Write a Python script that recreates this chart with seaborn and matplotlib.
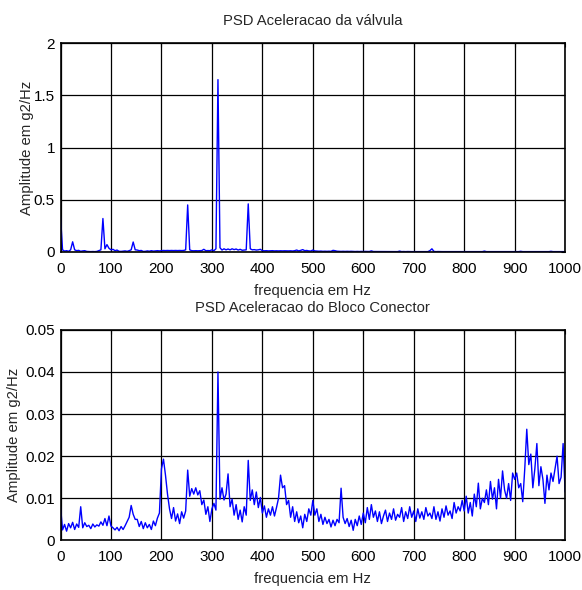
import numpy as np
import pandas as pd
import matplotlib
matplotlib.use("Agg")
import matplotlib.pyplot as plt
import seaborn as sns

# frequency bins (Hz), 4 Hz spacing
freq = np.arange(0, 1001, 4)

# PSD of valve acceleration (g2/Hz)
psd_valvula = [
    0.34, 0.02, 0.008, 0.012, 0.006, 0.02, 0.097, 0.02, 0.012, 0.015, 0.006, 0.01, 0.012,
    0.005, 0.004, 0.003, 0.004, 0.003, 0.005, 0.012, 0.02, 0.32, 0.03, 0.07, 0.035,
    0.02, 0.025, 0.012, 0.018, 0.006, 0.005, 0.008, 0.01, 0.006, 0.012, 0.02, 0.095, 0.02,
    0.018, 0.012, 0.014, 0.005, 0.006, 0.01, 0.007, 0.012, 0.008, 0.01, 0.012, 0.01,
    0.012, 0.014, 0.013, 0.014, 0.013, 0.014, 0.013, 0.014, 0.013, 0.014, 0.013, 0.014, 0.02,
    0.45, 0.02, 0.012, 0.011, 0.012, 0.011, 0.012, 0.013, 0.025, 0.012, 0.013, 0.012,
    0.02, 0.012, 0.03, 1.65, 0.04, 0.018, 0.03, 0.02, 0.028, 0.02, 0.03, 0.022, 0.028,
    0.018, 0.025, 0.016, 0.018, 0.02, 0.46, 0.03, 0.02, 0.022, 0.018, 0.02, 0.025,
    0.012, 0.011, 0.012, 0.01, 0.011, 0.012, 0.01, 0.011, 0.01, 0.011, 0.01, 0.011, 0.01,
    0.01, 0.011, 0.009, 0.012, 0.018, 0.01, 0.015, 0.022, 0.012, 0.014, 0.01, 0.009,
    0.018, 0.01, 0.008, 0.007, 0.008, 0.006, 0.007, 0.006, 0.007, 0.006, 0.015, 0.012, 0.007,
    0.006, 0.005, 0.006, 0.005, 0.006, 0.005, 0.006, 0.005, 0.004, 0.005, 0.004, 0.005,
    0.004, 0.005, 0.004, 0.004, 0.01, 0.004, 0.004, 0.003, 0.004, 0.003, 0.004, 0.003, 0.004,
    0.003, 0.004, 0.003, 0.004, 0.003, 0.008, 0.003, 0.004, 0.003, 0.004, 0.003, 0.003,
    0.003, 0.004, 0.003, 0.004, 0.003, 0.003, 0.004, 0.003, 0.012, 0.03, 0.005, 0.003, 0.004,
    0.003, 0.003, 0.003, 0.004, 0.003, 0.003, 0.003, 0.003, 0.003, 0.003, 0.003, 0.003,
    0.003, 0.003, 0.003, 0.003, 0.003, 0.003, 0.003, 0.003, 0.003, 0.003, 0.008, 0.003, 0.003,
    0.003, 0.003, 0.003, 0.003, 0.003, 0.003, 0.003, 0.003, 0.003, 0.003, 0.003, 0.003,
    0.003, 0.003, 0.003, 0.006, 0.003, 0.003, 0.003, 0.003, 0.003, 0.003, 0.003, 0.003, 0.003,
    0.003, 0.003, 0.003, 0.003, 0.003, 0.006, 0.003, 0.003, 0.003, 0.003, 0.003, 0.003, 0.003,
]

# PSD of connector block acceleration (x 1e-3 g2/Hz)
psd_bloco_milli = [
    8.0, 2.5, 3.8, 2.2, 4.0, 3.0, 4.3, 2.6, 3.9, 3.1, 8.0, 3.0, 4.2,
    3.3, 3.6, 2.8, 3.9, 3.2, 3.7, 3.4, 4.4, 3.6, 5.2, 3.5, 5.8,
    3.4, 3.0, 2.5, 3.1, 2.3, 3.3, 2.6, 3.5, 4.5, 5.5, 8.3, 6.2, 5.0,
    5.0, 3.3, 4.5, 2.8, 4.2, 3.0, 3.8, 2.6, 4.6, 3.5, 5.3, 6.5,
    17.0, 19.3, 15.5, 11.0, 7.5, 5.2, 7.8, 4.6, 6.3, 4.0, 6.8, 5.3, 7.0,
    16.7, 10.5, 12.3, 11.0, 12.5, 10.8, 11.8, 8.5, 9.6, 6.2, 8.0, 4.5,
    7.5, 8.8, 7.2, 40.0, 9.8, 12.5, 9.6, 11.0, 15.8, 8.0, 9.8, 6.0, 8.5,
    5.0, 7.2, 4.4, 8.0, 6.0, 19.0, 9.5, 12.0, 8.5, 11.5, 7.8, 10.2,
    6.5, 8.2, 5.5, 7.5, 6.0, 8.0, 5.8, 7.8, 10.0, 15.5, 12.5, 13.0, 8.5,
    9.5, 5.5, 8.0, 4.5, 6.8, 4.2, 5.8, 3.0, 6.2, 4.5, 7.5, 6.0,
    9.5, 6.0, 7.5, 4.5, 6.2, 3.8, 5.5, 4.0, 5.0, 3.2, 4.8, 3.5, 5.0,
    4.2, 12.4, 5.5, 4.0, 5.2, 3.3, 4.8, 2.4, 5.0, 3.5, 5.8, 3.8,
    6.5, 4.2, 7.8, 5.0, 8.5, 5.5, 7.0, 4.5, 6.8, 4.0, 5.8, 7.2, 4.5,
    6.5, 5.0, 7.5, 4.8, 6.2, 5.5, 7.8, 4.5, 6.8, 5.2, 8.0, 5.5,
    7.0, 4.5, 7.5, 5.3, 6.8, 5.0, 7.8, 5.8, 6.5, 5.2, 8.0, 5.0, 6.8,
    4.6, 7.5, 5.5, 8.2, 6.0, 7.0, 5.2, 9.0, 6.5, 8.0, 7.0, 9.5,
    7.0, 10.5, 6.5, 9.0, 5.8, 11.0, 8.0, 13.6, 7.5, 10.0, 9.0, 12.0, 8.5,
    14.0, 9.8, 12.5, 7.5, 14.5, 10.0, 16.5, 12.0, 10.0, 13.5, 9.5, 16.0,
    14.5, 16.0, 12.5, 13.5, 9.2, 17.0, 26.4, 18.0, 20.5, 12.5, 17.0, 23.0, 13.0,
    17.5, 14.5, 8.8, 15.5, 12.0, 16.0, 14.0, 17.0, 20.0, 13.5, 15.0, 23.0, 11.5,
]

titles = ["PSD Aceleracao da válvula", "PSD Aceleracao do Bloco Conector"]
xlabel = "frequencia em Hz"
ylabel = "Amplitude em g2/Hz"
xticks = [0, 100, 200, 300, 400, 500, 600, 700, 800, 900, 1000]
yticks_top = [0, 0.5, 1, 1.5, 2]
ytick_labels_top = ["0", "0.5", "1", "1.5", "2"]
yticks_bot = [0, 0.01, 0.02, 0.03, 0.04, 0.05]
ytick_labels_bot = ["0", "0.01", "0.02", "0.03", "0.04", "0.05"]

sns.set_style("white")
plt.rcParams["font.family"] = ["Liberation Sans", "DejaVu Sans"]

df_top = pd.DataFrame({"f": freq, "psd": psd_valvula})
df_bot = pd.DataFrame({"f": freq, "psd": np.array(psd_bloco_milli) / 1000.0})

fig = plt.figure(figsize=(5.82, 5.90), dpi=100)
ax1 = fig.add_axes([0.104, 0.573, 0.867, 0.354])
ax2 = fig.add_axes([0.104, 0.084, 0.867, 0.357])

specs = [
    (ax1, df_top, yticks_top, ytick_labels_top, (0, 2), 0),
    (ax2, df_bot, yticks_bot, ytick_labels_bot, (0, 0.05), 3),
]
for (ax, df, yt, ytl, ylim, ylpad), title in zip(specs, titles):
    sns.lineplot(data=df, x="f", y="psd", ax=ax, color="#0000ff",
                 linewidth=1.0, estimator=None)
    ax.set_xlim(0, 1000)
    ax.set_ylim(*ylim)
    ax.set_xticks(xticks)
    ax.set_xticklabels([str(t) for t in xticks])
    ax.set_yticks(yt)
    ax.set_yticklabels(ytl)
    ax.grid(True, color="black", linewidth=0.9, linestyle="-")
    ax.set_axisbelow(True)
    for s in ax.spines.values():
        s.set_color("black")
        s.set_linewidth(1.2)
        s.set_visible(True)
    ax.tick_params(direction="in", length=3, labelsize=11, colors="black",
                   top=True, right=True)
    ax.tick_params(axis="x", pad=7)
    ax.tick_params(axis="y", pad=4)
    ax.set_title(title, fontsize=10.7, pad=13)
    ax.set_xlabel(xlabel, fontsize=10.7, labelpad=6)
    ax.set_ylabel(ylabel, fontsize=10.7, labelpad=ylpad)

fig.savefig("out.png", dpi=100, facecolor="white")
